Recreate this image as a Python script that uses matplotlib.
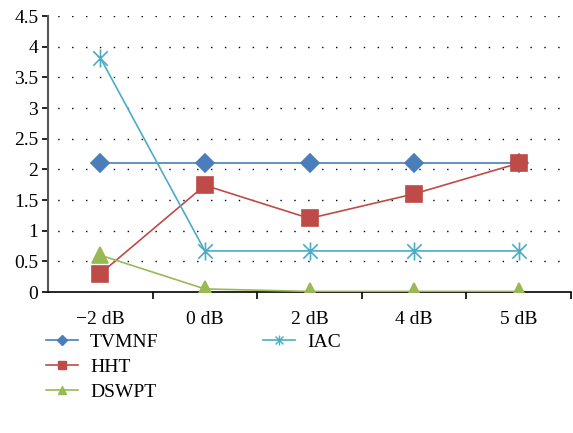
import numpy as np
import matplotlib
matplotlib.use("Agg")
import matplotlib.pyplot as plt
from matplotlib.path import Path
from matplotlib.lines import Line2D

# data
categories = ["\u22122 dB", "0 dB", "2 dB", "4 dB", "5 dB"]
tvmnf = [2.1, 2.1, 2.1, 2.1, 2.1]
hht = [0.3, 1.74, 1.2, 1.6, 2.1]
dswpt = [0.6, 0.05, 0.01, 0.01, 0.01]
iac = [3.82, 0.67, 0.67, 0.67, 0.67]
y_ticks = [0, 0.5, 1, 1.5, 2, 2.5, 3, 3.5, 4, 4.5]
y_labels = ["0", "0.5", "1", "1.5", "2", "2.5", "3", "3.5", "4", "4.5"]

plt.rcParams['font.family'] = ['Liberation Serif', 'DejaVu Serif']

# excel style star: X plus vertical bar
star = Path([(-1, -1), (1, 1), (-1, 1), (1, -1), (0, -1.25), (0, 1.25)],
            [Path.MOVETO, Path.LINETO, Path.MOVETO, Path.LINETO, Path.MOVETO, Path.LINETO])

series = [
    ("TVMNF", tvmnf, '#4a7ebb', 'D', 9),
    ("HHT", hht, '#be4b48', 's', 11),
    ("DSWPT", dswpt, '#98b954', '^', 11),
    ("IAC", iac, '#4bacc6', star, 13),
]

fig = plt.figure(figsize=(5.73, 4.33), dpi=100)
ax = fig.add_axes([0.0838, 0.3256, 0.9127, 0.6374])

x = np.arange(len(categories))
handles = []
for name, vals, col, mk, ms in series:
    ax.plot(x, vals, color=col, lw=1.2, marker=mk, ms=ms, mec=col, mew=1.2, zorder=3)
    # smaller markers for the legend, like the original
    handles.append(Line2D([], [], color=col, lw=1.2, marker=mk, ms=ms * 0.55, mec=col, mew=1.0))
labels = [s[0] for s in series]

ax.set_xlim(-0.5, len(categories) - 0.5)
ax.set_ylim(0, 4.5)
ax.set_yticks(y_ticks)
ax.set_yticklabels(y_labels, fontsize=14)
ax.set_xticks(x)
ax.set_xticklabels(categories, fontsize=14)
ax.tick_params(axis='x', length=0, pad=14)
ax.set_xticks(np.arange(len(categories)) + 0.5, minor=True)
ax.tick_params(axis='x', which='minor', length=5, width=1.2, direction='out')
ax.tick_params(axis='y', length=4, width=1.2, direction='out', pad=3)

for v in y_ticks[1:]:
    ax.axhline(v, color='black', lw=1.0, ls=(3, (1, 9)), zorder=1)

for s in ['top', 'right']:
    ax.spines[s].set_visible(False)
ax.spines['left'].set_color('#555555')
ax.spines['left'].set_linewidth(1.5)
ax.spines['bottom'].set_color('black')
ax.spines['bottom'].set_linewidth(1.2)

blank = Line2D([], [], color='none')
handles = handles + [blank, blank]
labels = labels + ["", ""]
fig.legend(handles, labels, ncol=2, loc='upper left', bbox_to_anchor=(0.05, 0.27),
           frameon=False, fontsize=14, handlelength=1.65, handletextpad=0.6,
           columnspacing=5.4, labelspacing=0.37)

fig.savefig("out.png", dpi=100)
